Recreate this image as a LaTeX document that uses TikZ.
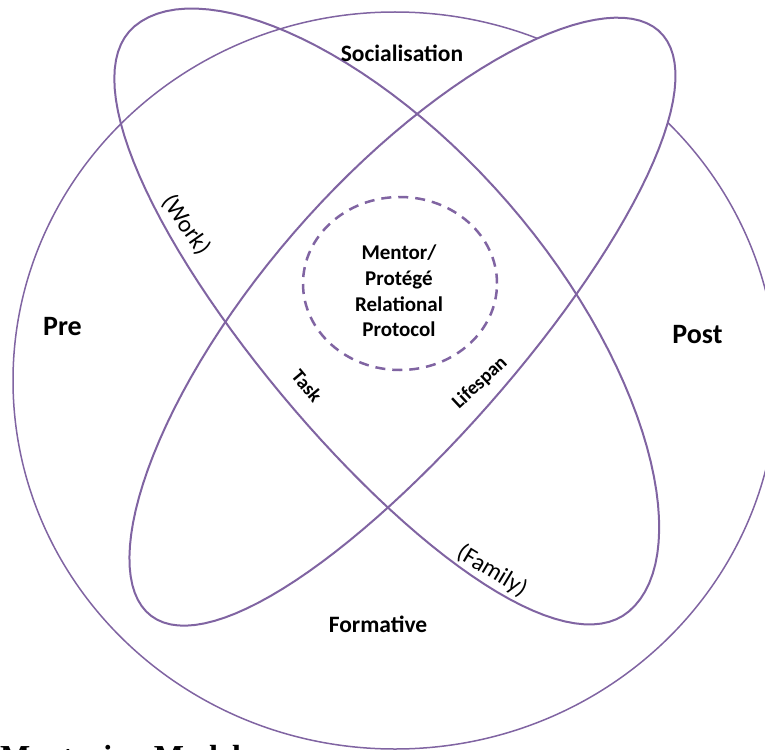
\documentclass[tikz,border=0pt]{standalone}
\usepackage{fontspec}
\setmainfont{Carlito}
\newfontfamily\titlefont{Liberation Serif}
\usepackage{xcolor}
\definecolor{ringpurple}{HTML}{8064A2}
\usetikzlibrary{positioning}

\begin{document}
\begin{tikzpicture}[x=1pt, y=-1pt,
    outer/.style={draw=ringpurple, line width=1.5pt},
    orbit/.style={draw=ringpurple, line width=2pt},
    core/.style={draw=ringpurple, line width=2.5pt, dash pattern=on 10pt off 7pt},
    phase/.style={inner sep=0pt, font=\bfseries\fontsize{28}{32}\selectfont},
    stage/.style={inner sep=0pt, font=\bfseries\fontsize{23.5}{28}\selectfont},
    tag/.style={inner sep=0pt, font=\fontsize{24}{28}\selectfont},
    axis/.style={inner sep=0pt, font=\bfseries\fontsize{19.5}{22}\selectfont}]
  \useasboundingbox (0,0) rectangle (765,749);
  \clip (0,0) rectangle (765,749);

  % outer ring
  \draw[outer] (395,380.5) ellipse[x radius=382pt, y radius=368.5pt];
  % lifespan ellipse (SW--NE), filled so it hides the ring
  \draw[orbit, fill=white, variable=\t, samples=120]
    plot[domain=0:360] ({394.6+cos(\t)*(264-9*(1-cos(\t)))+97.4*sin(\t)},
                        {315+cos(\t)*(-284.3-7.25*(1-cos(\t)))+86.1*sin(\t)})
    -- cycle;
  % task ellipse (NW--SE)
  \draw[orbit, variable=\t, samples=60]
    plot[domain=0:180] ({395+cos(\t)*(233.9+13.3*(1-cos(\t)))+119.9*sin(\t)},
                        {312+cos(\t)*(299.4-6.85*(1-cos(\t)))-101.3*sin(\t)})
    -- plot[domain=180:360] ({395+cos(\t)*(233.9+13.3*(1-cos(\t)))+106.9*sin(\t)},
                        {312+cos(\t)*(299.4-6.85*(1-cos(\t)))-90.4*sin(\t)})
    -- cycle;
  \draw[core] (400,283.5) ellipse[x radius=97pt, y radius=86.5pt];

  % labels
  \node[stage, anchor=base] (social) at (402,62) {Socialisation};
  \node[stage, anchor=base] (formative) at (378,632) {Formative};
  \node[phase, anchor=base] (pre) at (62.5,335) {Pre};
  \node[phase, anchor=base] (post) at (697.5,343) {Post};
  \node[inner sep=0pt, align=center, font=\bfseries\fontsize{21}{25.7}\selectfont]
    (protocol) at (399,291) {Mentor/\\Protégé\\Relational\\Protocol};

  \node[tag, rotate=-55] (work) at (186,225) {(Work)};
  \node[tag, rotate=-31] (family) at (492,571) {(Family)};
  \node[axis, rotate=-50] (task) at (307,386) {Task};
  \node[axis, rotate=43] (lifespan) at (480,383) {Lifespan};

  \node[anchor=base west, inner sep=0pt,
        font=\titlefont\bfseries\fontsize{32}{36}\selectfont]
    (title) at (0,767) {Mentoring Model};
\end{tikzpicture}
\end{document}
